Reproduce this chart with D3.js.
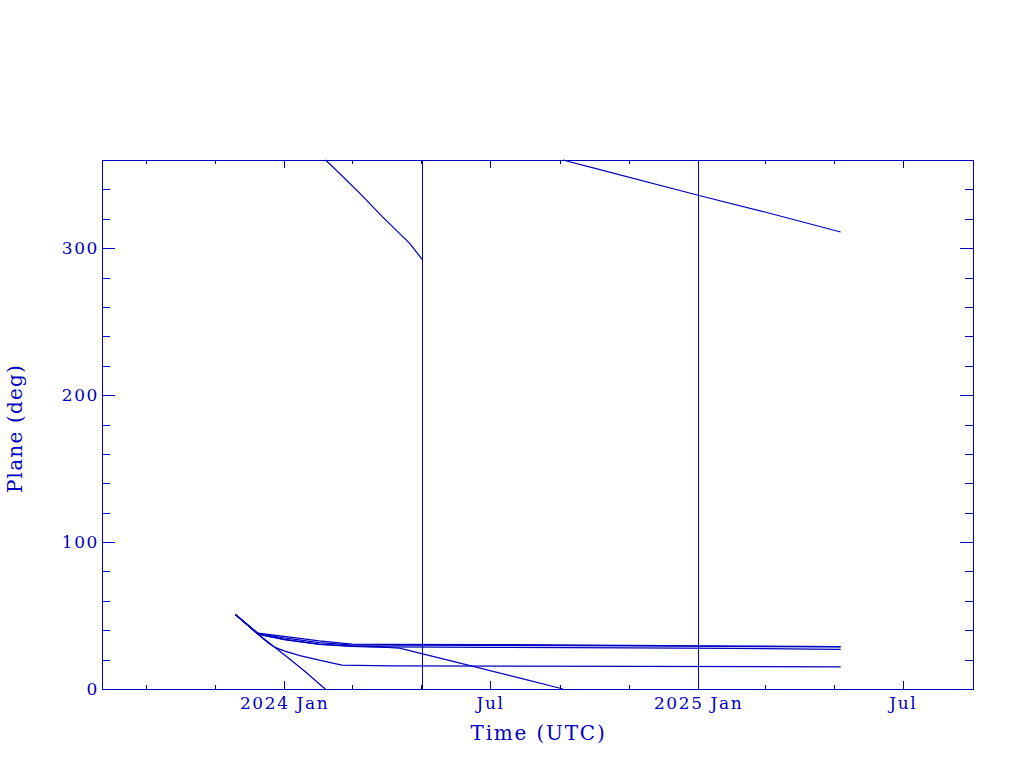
<!DOCTYPE html>
<html>
<head>
<meta charset="utf-8">
<script src="https://cdn.jsdelivr.net/npm/d3@7"></script>
<style>
  html, body { margin: 0; padding: 0; background: #ffffff; }
  svg { display: block; }
  text { font-family: "DejaVu Serif", "Liberation Serif", serif; fill: #0000c0; }
</style>
</head>
<body>
<svg id="chart" width="1024" height="768"></svg>
<script>
// ---------------- DATA ----------------
const xDomain = ["2023-07-24", "2025-09-01"];
const yDomain = [0, 360];
const yMajorTicks = [0, 100, 200, 300];
const yMinorStep = 20;
const xMajorTicks = ["2024-01-01", "2024-07-01", "2025-01-01", "2025-07-01"];
const xTickLabels = ["2024 Jan", "Jul", "2025 Jan", "Jul"];
const xLabel = "Time (UTC)";
const yLabel = "Plane (deg)";

// vertical marker lines
const markerDates = ["2024-05-02", "2025-01-01"];

// Track A (fast drift, wraps through 0 -> 360)
const trackADates = ["2023-11-19", "2023-11-29", "2023-12-09", "2023-12-20", "2024-01-07", "2024-01-20", "2024-02-01", "2024-02-10", "2024-03-08", "2024-03-28", "2024-04-21", "2024-05-02"];
const trackADeg   = [50.6, 44.0, 37.3, 30.6, 19.7, 11.5, 3.6, 357.6, 337.3, 321.3, 303.3, 292.4];

// Track B (branches from bundle in April 2024, wraps in Sep 2024)
const trackBDates = ["2023-11-19", "2023-11-29", "2023-12-09", "2024-01-01", "2024-02-01", "2024-03-01", "2024-04-01", "2024-04-12", "2024-06-01", "2024-08-01", "2024-09-01", "2024-10-01", "2025-01-01", "2025-03-01", "2025-05-07"];
const trackBDeg   = [50.6, 44.0, 37.3, 33.6, 30.4, 29.0, 28.4, 27.8, 18.3, 6.5, 0.5, 354.4, 336.0, 324.6, 311.0];

// Track C (settles near 16 deg)
const trackCDates = ["2023-11-19", "2023-11-29", "2023-12-09", "2023-12-18", "2023-12-24", "2024-01-01", "2024-01-15", "2024-02-01", "2024-02-15", "2024-02-21", "2024-04-05", "2024-11-05", "2025-05-07"];
const trackCDeg   = [50.6, 44.0, 37.3, 31.3, 28.3, 26.0, 22.7, 19.6, 17.3, 16.3, 15.8, 15.4, 15.1];

// Bundle tracks settling near 28-30 deg
const trackT1Dates = ["2023-11-19", "2023-11-29", "2023-12-09", "2024-01-01", "2024-02-01", "2024-03-01", "2024-04-01", "2024-07-01", "2024-11-01", "2025-02-01", "2025-05-07"];
const trackT1Deg   = [50.6, 44.0, 38.0, 35.8, 32.7, 30.6, 30.3, 30.2, 29.7, 29.2, 28.9];

const trackT2Dates = ["2023-11-19", "2023-11-29", "2023-12-09", "2024-01-01", "2024-02-01", "2024-03-01", "2024-04-01", "2024-07-01", "2024-11-01", "2025-02-01", "2025-05-07"];
const trackT2Deg   = [50.6, 44.0, 37.6, 34.8, 31.6, 29.9, 29.8, 29.7, 29.4, 29.0, 28.6];

const trackDDates = ["2023-11-19", "2023-11-29", "2023-12-09", "2024-01-01", "2024-02-01", "2024-03-01", "2024-04-01", "2024-07-01", "2024-11-01", "2025-02-01", "2025-05-07"];
const trackDDeg   = [50.6, 44.0, 37.3, 33.8, 30.5, 29.2, 28.6, 28.3, 28.0, 27.6, 27.0];

const tracks = [
  [trackADates, trackADeg],
  [trackBDates, trackBDeg],
  [trackCDates, trackCDeg],
  [trackT1Dates, trackT1Deg],
  [trackT2Dates, trackT2Deg],
  [trackDDates, trackDDeg]
];

// ---------------- DRAW ----------------
const color = "#0000c0";
const parse = d3.utcParse("%Y-%m-%d");
const svg = d3.select("#chart");
const mLeft = 102, mRight = 973, mTop = 160, mBottom = 689;

const x = d3.scaleUtc().domain(xDomain.map(parse)).range([mLeft, mRight]);
const y = d3.scaleLinear().domain(yDomain).range([mBottom, mTop]);

// split a track into segments where it wraps across 0/360
function segments(dates, vals) {
  const pts = dates.map((d, i) => ({ t: parse(d).getTime(), v: vals[i] }));
  const segs = [];
  let cur = [pts[0]];
  for (let i = 1; i < pts.length; i++) {
    const a = pts[i - 1], b = pts[i];
    if (Math.abs(b.v - a.v) > 180) {
      const bv = b.v > a.v ? b.v - 360 : b.v + 360;
      const edgeA = b.v > a.v ? 0 : 360;
      const frac = (edgeA - a.v) / (bv - a.v);
      const tc = a.t + frac * (b.t - a.t);
      cur.push({ t: tc, v: edgeA });
      segs.push(cur);
      cur = [{ t: tc, v: 360 - edgeA }, b];
    } else {
      cur.push(b);
    }
  }
  segs.push(cur);
  return segs;
}

const line = d3.line().x(p => x(new Date(p.t))).y(p => y(p.v));

const plot = svg.append("g");
tracks.forEach(([ds, vs]) => {
  segments(ds, vs).forEach(seg => {
    plot.append("path")
      .attr("d", line(seg))
      .attr("fill", "none")
      .attr("stroke", color)
      .attr("stroke-width", 1.25);
  });
});

// vertical markers
plot.selectAll("line.marker").data(markerDates).enter().append("line")
  .attr("class", "marker")
  .attr("x1", d => Math.round(x(parse(d))) + 0.5)
  .attr("x2", d => Math.round(x(parse(d))) + 0.5)
  .attr("y1", y(yDomain[0]))
  .attr("y2", y(yDomain[1]))
  .attr("stroke", color)
  .attr("stroke-width", 1)
  .attr("shape-rendering", "crispEdges");

// axes
const xMajor = xMajorTicks.map(parse);
const xMinor = d3.utcMonth.every(2).range(x.domain()[0], x.domain()[1])
  .filter(d => x(d) > mLeft + 1 && x(d) < mRight - 1 && !xMajor.some(m => +m === +d));
const yMinor = d3.range(yDomain[0] + yMinorStep, yDomain[1], yMinorStep).filter(v => !yMajorTicks.includes(v));

function styleAxis(g) {
  g.select(".domain").remove();
  g.selectAll("line").attr("stroke", color).attr("shape-rendering", "crispEdges");
  g.selectAll("text").attr("fill", color).style("font-size", "17px").style("letter-spacing", "1.6px")
    .style("font-family", '"DejaVu Serif", serif');
}

// bottom major with labels
svg.append("g").attr("transform", `translate(0,${mBottom})`)
  .call(d3.axisBottom(x).tickValues(xMajor).tickSize(-8).tickPadding(8)
    .tickFormat((d, i) => xTickLabels[i]))
  .call(styleAxis);
svg.append("g").attr("transform", `translate(0,${mBottom})`)
  .call(d3.axisBottom(x).tickValues(xMinor).tickSize(-4).tickFormat(""))
  .call(styleAxis);
// top mirrored
svg.append("g").attr("transform", `translate(0,${mTop})`)
  .call(d3.axisTop(x).tickValues(xMajor).tickSize(-8).tickFormat(""))
  .call(styleAxis);
svg.append("g").attr("transform", `translate(0,${mTop})`)
  .call(d3.axisTop(x).tickValues(xMinor).tickSize(-4).tickFormat(""))
  .call(styleAxis);
// left major with labels
svg.append("g").attr("transform", `translate(${mLeft},0)`)
  .call(d3.axisLeft(y).tickValues(yMajorTicks).tickSize(-13).tickPadding(3).tickFormat(d3.format("d")))
  .call(styleAxis);
svg.append("g").attr("transform", `translate(${mLeft},0)`)
  .call(d3.axisLeft(y).tickValues(yMinor).tickSize(-8).tickFormat(""))
  .call(styleAxis);
// right mirrored
svg.append("g").attr("transform", `translate(${mRight},0)`)
  .call(d3.axisRight(y).tickValues(yMajorTicks).tickSize(-13).tickFormat(""))
  .call(styleAxis);
svg.append("g").attr("transform", `translate(${mRight},0)`)
  .call(d3.axisRight(y).tickValues(yMinor).tickSize(-8).tickFormat(""))
  .call(styleAxis);

// frame
svg.append("rect")
  .attr("x", mLeft + 0.5).attr("y", mTop + 0.5)
  .attr("width", mRight - mLeft).attr("height", mBottom - mTop)
  .attr("fill", "none").attr("stroke", color).attr("stroke-width", 1)
  .attr("shape-rendering", "crispEdges");

// axis titles
svg.append("text")
  .attr("x", (mLeft + mRight) / 2 + 1).attr("y", 740)
  .attr("text-anchor", "middle")
  .style("font-size", "20px").style("letter-spacing", "1.8px")
  .text(xLabel);
svg.append("text")
  .attr("transform", `translate(22,${(mTop + mBottom) / 2 + 4}) rotate(-90)`)
  .attr("text-anchor", "middle")
  .style("font-size", "20px").style("letter-spacing", "1.2px")
  .text(yLabel);
</script>
</body>
</html>
